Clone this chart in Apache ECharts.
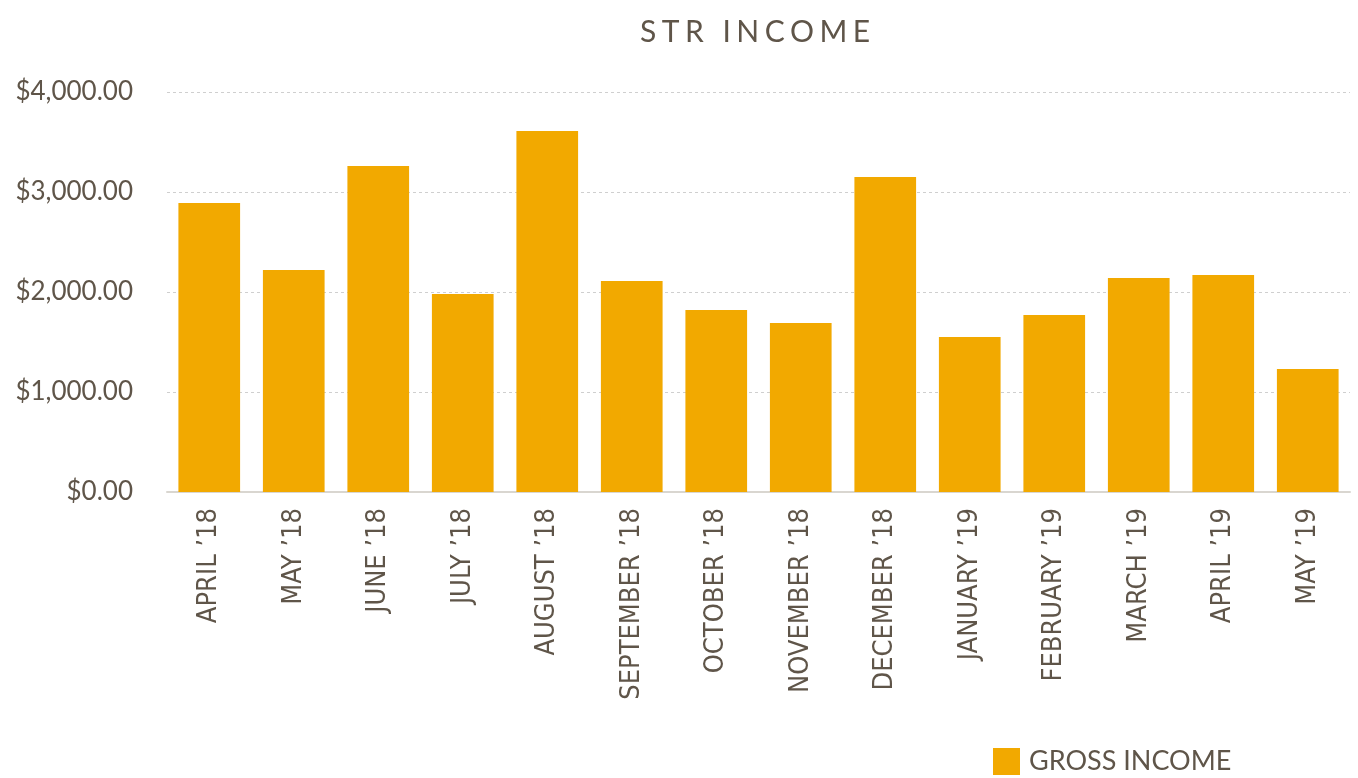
<!DOCTYPE html>
<html>
<head>
<meta charset="utf-8">
<title>STR Income</title>
<script src="https://cdn.jsdelivr.net/npm/echarts@6/dist/echarts.min.js"></script>
<style>
  html, body { margin: 0; padding: 0; background: #fff; }
  #wrap { position: relative; width: 1358px; height: 778px; }
  #chart { width: 1358px; height: 778px; }
  /* title sits over the chart so it can have letter spacing */
  #title {
    position: absolute; left: 640px; top: 12px;
    font-family: Lato, "Noto Sans", sans-serif;
    font-size: 30px;
    letter-spacing: 5.5px;
    color: #5f5549;
    white-space: nowrap;
  }
</style>
</head>
<body>
<div id="wrap">
  <div id="chart"></div>
  <div id="title">STR INCOME</div>
</div>
<script>
// months on the x axis
const months = ['APRIL ’18', 'MAY ’18', 'JUNE ’18', 'JULY ’18', 'AUGUST ’18', 'SEPTEMBER ’18',
  'OCTOBER ’18', 'NOVEMBER ’18', 'DECEMBER ’18', 'JANUARY ’19', 'FEBRUARY ’19',
  'MARCH ’19', 'APRIL ’19', 'MAY ’19']
// gross income per month
const grossIncome = [2890, 2220, 3260, 1980, 3610, 2110, 1820, 1690, 3150, 1550, 1770, 2140, 2170, 1230]
// y axis ticks
const yMin = 0
const yMax = 4000
const yStep = 1000

const textColor = '#5f5549'
const barColor = '#f2a900'
const font = 'Lato, "Noto Sans", sans-serif'
const narrowFont = '"Liberation Sans Narrow", "Arial Narrow", "DejaVu Sans Condensed", sans-serif'

const chart = echarts.init(document.getElementById('chart'))

// $1,000.00 style
function money(v) {
  return '$' + v.toLocaleString('en-US', { minimumFractionDigits: 2, maximumFractionDigits: 2 })
}

chart.setOption({
  animation: false,
  textStyle: { fontFamily: font, color: textColor },
  legend: {
    data: ['GROSS INCOME'],
    left: 988,
    top: 743,
    icon: 'rect',
    itemWidth: 27,
    itemHeight: 27,
    itemGap: 16,
    textStyle: { fontFamily: font, fontSize: 27, color: textColor, padding: [0, 0, 0, 4] }
  },
  grid: {
    left: 167,
    right: 8,
    top: 92,
    bottom: 286
  },
  xAxis: {
    type: 'category',
    data: months,
    axisTick: { show: false },
    axisLine: { lineStyle: { color: '#d9d6d0', width: 2 } },
    axisLabel: {
      rotate: 90,
      margin: 16,
      fontFamily: narrowFont,
      fontSize: 27,
      color: textColor,
      interval: 0
    }
  },
  yAxis: {
    type: 'value',
    min: yMin,
    max: yMax,
    interval: yStep,
    axisLine: { show: false },
    axisTick: { show: false },
    splitLine: { lineStyle: { color: '#cfcfcf', type: [3, 3], width: 1 } },
    axisLabel: {
      formatter: money,
      margin: 34,
      fontFamily: font,
      fontSize: 26,
      color: textColor
    }
  },
  series: [{
    name: 'GROSS INCOME',
    type: 'bar',
    data: grossIncome,
    barCategoryGap: '27%',
    itemStyle: { color: barColor }
  }]
})
</script>
</body>
</html>
